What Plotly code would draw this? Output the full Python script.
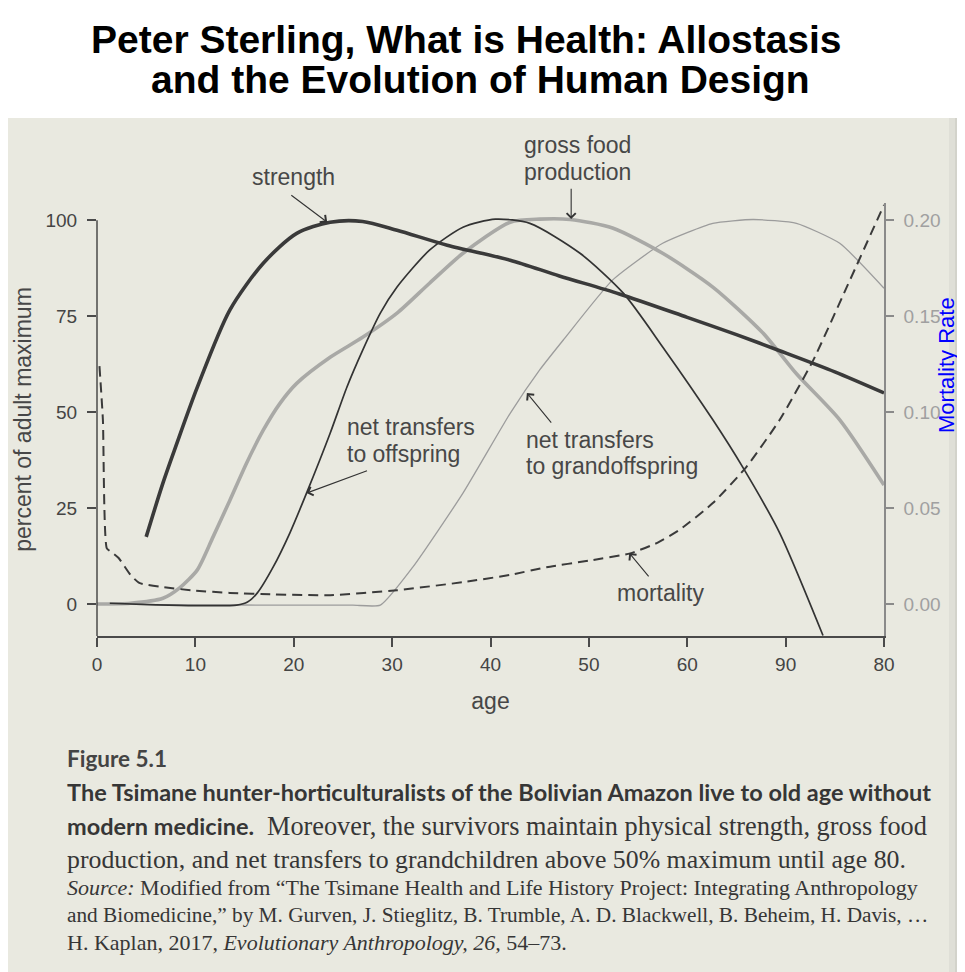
import plotly.graph_objects as go

# values (left axis: percent of adult maximum)
strength_age = [5, 6.7, 8, 10.2, 13.5, 16.9, 20.3, 23.7, 27, 30.5, 35.6, 42, 47, 53.1, 60, 65, 69.4, 75, 80]
strength_val = [17.5, 31.5, 41, 56.5, 76.6, 88.8, 96.6, 99.5, 99.7, 97.4, 93.5, 89.6, 85.5, 80.8, 74.7, 70.2, 66, 60.5, 55]

food_age = [0, 3.4, 6.7, 8.4, 10.2, 11.8, 13.5, 15.2, 16.9, 18.6, 20.3, 23.7, 27, 30.5, 33.8, 37.2,
            42, 45, 48.1, 52.4, 57.5, 62.6, 67.7, 71.1, 75.5, 80]
food_val = [0, 0.2, 1.5, 4.2, 8.9, 17.5, 27, 36.7, 45.3, 52.3, 57.5, 64.3, 69.5, 75.8, 83.6, 91.4,
            99.5, 100.3, 100.2, 98, 91.4, 82.6, 70.6, 60, 48, 31]

offspring_age = [1.3, 6, 10, 14.2, 15.3, 16.3, 17.9, 19.6, 21.3, 23.7, 25.4, 27, 28.8, 30.5, 33.8, 37.2,
                 40.5, 44, 49.1, 53.5, 57.5, 62.6, 65.7, 69.4, 73.8]
offspring_val = [0.2, -0.2, -0.4, -0.3, 0.5, 2.9, 9.6, 18.5, 28.9, 44.5, 56.5, 66.1, 75.8, 82.6, 92.2, 98.2,
                 100.3, 99.2, 91.4, 81, 67, 48, 35.4, 18.5, -8.2]

grand_age = [0, 10, 20, 26, 28.8, 32.1, 37.2, 42, 45, 47.4, 52.4, 57.5, 62.6, 66.7, 71.1, 75.5, 80]
grand_val = [0, -0.2, -0.3, -0.3, -0.3, 9.6, 28.9, 49.7, 61, 68.8, 84.4, 94, 99.2, 100.2, 99.2, 94, 82.3]

# mortality rate (right axis)
mort_age = [0.25, 0.6, 1.0, 1.5, 2.2, 3.4, 4.3, 6.7, 10, 13.5, 18, 23.7, 30.5, 37.2, 42, 45.7, 50,
            54.2, 57, 59.2, 62.6, 66, 69.4, 72.8, 76.2, 80]
mort_rate = [0.124, 0.096, 0.029, 0.027, 0.024, 0.0152, 0.011, 0.0088, 0.007, 0.0058, 0.005, 0.0046,
             0.0072, 0.0114, 0.0152, 0.0192, 0.0226, 0.0264, 0.032, 0.0386, 0.0526, 0.0714, 0.096,
             0.127, 0.165, 0.208]

age_ticks = [0, 10, 20, 30, 40, 50, 60, 70, 80]
age_labels = ["0", "10", "20", "30", "40", "50", "60", "90", "80"]
pct_ticks = [0, 25, 50, 75, 100]
rate_ticks = [0, 0.05, 0.10, 0.15, 0.20]
rate_labels = ["0.00", "0.05", "0.10", "0.15", "0.20"]

W, H = 965, 972
OFF = 8  # the page body margin pushes the figure 8px right and down
X0, X1, YT, YB = 97, 884, 203, 636  # plot box in page pixels
Y_LO, Y_HI = -8.33, 104.5
PAGE = "#e9e9e0"
INK = "#444444"
SANS = "Liberation Sans, Arial, sans-serif"
SERIF = "Liberation Serif, Times New Roman, serif"
BOLD = "Lato, sans-serif"


def px(x, y):
    # page pixel position -> paper coordinates
    return dict(x=(x - X0) / (X1 - X0), y=(YB - y) / (YB - YT), xref="paper", yref="paper")


fig = go.Figure()

fig.add_trace(go.Scatter(x=grand_age, y=grand_val, mode="lines", hoverinfo="skip",
                         line=dict(color="#9c9c9c", width=1.3, shape="spline", smoothing=0.5)))
fig.add_trace(go.Scatter(x=food_age, y=food_val, mode="lines", hoverinfo="skip",
                         line=dict(color="#a9a9a6", width=3.6, shape="spline", smoothing=0.7)))
fig.add_trace(go.Scatter(x=mort_age, y=mort_rate, mode="lines", yaxis="y2", hoverinfo="skip",
                         line=dict(color="#3a3a3a", width=2, dash="10px,6px", shape="spline", smoothing=0.5)))
fig.add_trace(go.Scatter(x=offspring_age, y=offspring_val, mode="lines", hoverinfo="skip",
                         line=dict(color="#333333", width=1.7, shape="spline", smoothing=0.7)))
fig.add_trace(go.Scatter(x=strength_age, y=strength_val, mode="lines", hoverinfo="skip",
                         line=dict(color="#3a3a3a", width=3.6, shape="spline", smoothing=0.8)))

# scanned page + gutter shadow at the right edge
top = px(0, 118)["y"]
bot = px(0, H + 20)["y"]
fig.add_shape(type="rect", xref="paper", yref="paper", layer="below", line_width=0, fillcolor=PAGE,
              x0=px(-20, 0)["x"], x1=px(W + 20, 0)["x"], y0=bot, y1=top)
fig.add_shape(type="rect", xref="paper", yref="paper", layer="below", line_width=0, fillcolor="#dfdfd7",
              x0=px(949, 0)["x"], x1=px(W + 20, 0)["x"], y0=bot, y1=top)
fig.add_shape(type="rect", xref="paper", yref="paper", layer="below", line_width=0, fillcolor="#d3d3cb",
              x0=px(955, 0)["x"], x1=px(W + 20, 0)["x"], y0=bot, y1=top)
# left axis line stops at 100
fig.add_shape(type="line", xref="paper", yref="y", x0=0, x1=0, y0=Y_LO, y1=100,
              line=dict(color="#4a4a4a", width=1.5))

ann = []
ann.append(dict(text="<b>Peter Sterling, What is Health: Allostasis</b>", **px(466, 39), yanchor="middle",
                font=dict(family=SANS, size=39, color="#000"), showarrow=False))
ann.append(dict(text="<b>and the Evolution of Human Design</b>", **px(480, 80), yanchor="middle",
                font=dict(family=SANS, size=39, color="#000"), showarrow=False))

lab = dict(family=SANS, size=23, color="#474747")
for t, x, y in [("strength", 250, 177), ("gross food", 522, 145), ("production", 522, 172),
                ("net transfers", 345, 427), ("to offspring", 345, 454),
                ("net transfers", 524, 440), ("to grandoffspring", 524, 466),
                ("mortality", 615, 593)]:
    ann.append(dict(text=t, **px(x, y), xanchor="left", yanchor="middle", showarrow=False, font=lab))

# label arrows (head on the curve, tail toward the label)
for hx, hy, tx, ty in [(23.4, 99.5, 19.6, 106.8), (48.2, 100.3, 48.2, 108.6),
                       (21.3, 28.9, 27.6, 34.9), (43.7, 55, 46.3, 46.9), (54.1, 13.3, 56.2, 6.8)]:
    ann.append(dict(x=hx, y=hy, ax=tx, ay=ty, xref="x", yref="y", axref="x", ayref="y", text="",
                    showarrow=True, arrowhead=4, arrowsize=1.6, arrowwidth=1.1, arrowcolor="#333"))

ann.append(dict(text="Mortality Rate", **px(946, 365), textangle=-90, xanchor="center", yanchor="middle",
                showarrow=False, font=dict(family=SANS, size=22, color="#0000ff")))

cap = "#363636"
caption = [
    ("<b>Figure 5.1</b>", 65, 758, BOLD, 22.5, "#444"),
    ("<b>The Tsimane hunter-horticulturalists of the Bolivian Amazon live to old age without</b>",
     65, 792, BOLD, 23.5, cap),
    ("<b>modern medicine.</b>", 65, 826, BOLD, 23.5, cap),
    ("Moreover, the survivors maintain physical strength, gross food", 265, 826, SERIF, 26.3, cap),
    ("production, and net transfers to grandchildren above 50% maximum until age 80.", 65, 859, SERIF, 25.8, cap),
    ("<i>Source:</i> Modified from “The Tsimane Health and Life History Project: Integrating Anthropology",
     65, 887, SERIF, 22, cap),
    ("and Biomedicine,” by M. Gurven, J. Stieglitz, B. Trumble, A. D. Blackwell, B. Beheim, H. Davis, …",
     65, 915, SERIF, 21.3, cap),
    ("H. Kaplan, 2017, <i>Evolutionary Anthropology, 26,</i> 54–73.", 65, 942, SERIF, 22, cap),
]
for t, x, y, fam, size, col in caption:
    ann.append(dict(text=t, **px(x, y), xanchor="left", yanchor="middle", showarrow=False,
                    font=dict(family=fam, size=size, color=col)))

fig.update_layout(
    width=W, height=H,
    margin=dict(l=X0 - OFF, r=W - (X1 - OFF), t=YT - OFF, b=H - (YB - OFF)),
    paper_bgcolor="white", plot_bgcolor="rgba(0,0,0,0)", showlegend=False,
    font=dict(family=SANS, color=INK),
    xaxis=dict(range=[0, 80], tickvals=age_ticks, ticktext=age_labels, showgrid=False, zeroline=False,
               showline=True, linecolor="#4a4a4a", linewidth=1.5, ticks="outside", ticklen=9,
               tickcolor="#4a4a4a", tickwidth=1.5, tickfont=dict(size=19, color=INK), ticklabelstandoff=1,
               title=dict(text="age", font=dict(size=23, color="#474747"), standoff=19)),
    yaxis=dict(range=[Y_LO, Y_HI], tickvals=pct_ticks, showgrid=False, zeroline=False, showline=False,
               ticks="outside", ticklen=9, tickcolor="#4a4a4a", tickwidth=1.5,
               tickfont=dict(size=19, color=INK), ticklabelstandoff=6,
               title=dict(text="percent of adult maximum", font=dict(size=23, color="#474747"), standoff=7)),
    yaxis2=dict(range=[Y_LO * 0.002, Y_HI * 0.002], overlaying="y", side="right", tickvals=rate_ticks,
                ticktext=rate_labels, showgrid=False, zeroline=False, showline=True, linecolor="#8a8a8a",
                linewidth=1.5, ticks="outside", ticklen=8, tickcolor="#8a8a8a", tickwidth=1.5,
                tickfont=dict(size=19, color="#a0a0a0"), ticklabelstandoff=6),
    annotations=ann,
)

fig.write_html("out.html")
